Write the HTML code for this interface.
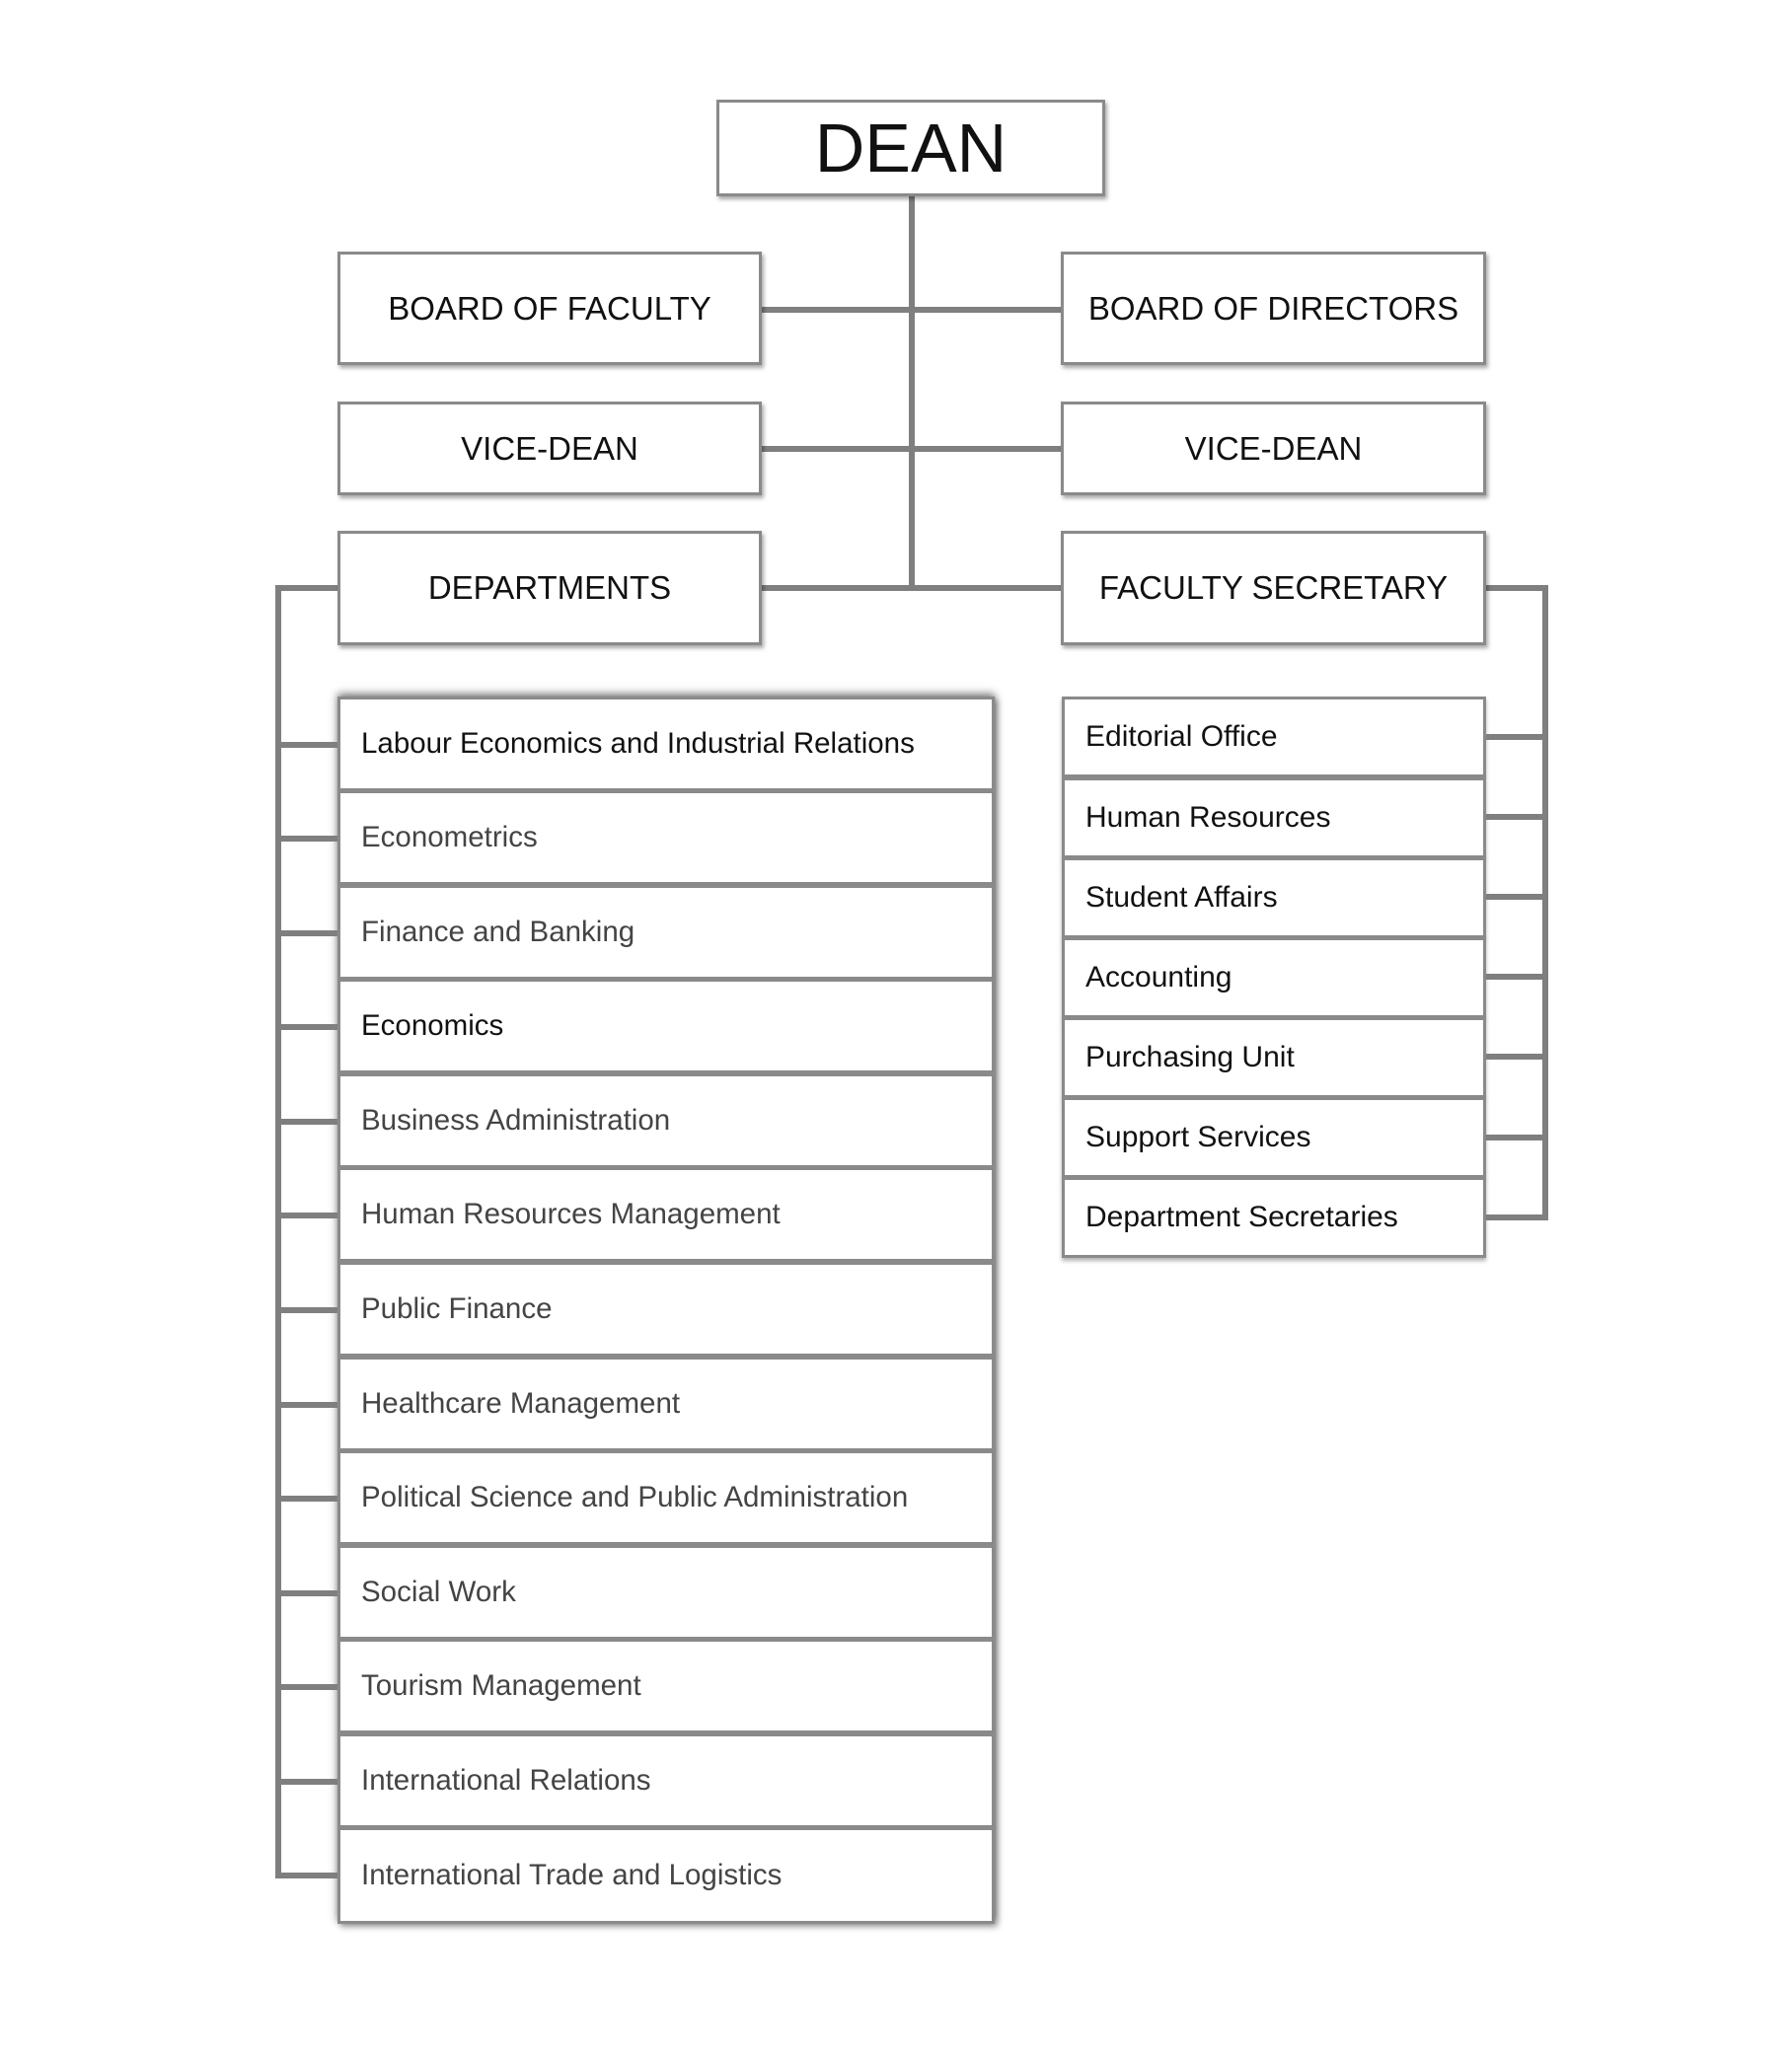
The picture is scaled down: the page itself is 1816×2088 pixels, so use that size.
<!DOCTYPE html>
<html><head><meta charset="utf-8"><style>
html,body{margin:0;padding:0;background:#fff;}
body{width:1816px;height:2088px;position:relative;overflow:hidden;font-family:"Liberation Sans",sans-serif;}
.b{position:absolute;box-sizing:border-box;background:#fff;border:3px solid #8a8a8a;box-shadow:2px 3px 4px rgba(0,0,0,0.35);display:flex;align-items:center;justify-content:center;color:#111;}
.l{position:absolute;background:#7f7f7f;}
.t{font-size:33px;}
.row{position:absolute;box-sizing:border-box;left:342px;width:666px;height:96px;background:#fff;border:3px solid #8a8a8a;display:flex;align-items:center;padding-left:21px;font-size:29.5px;color:#444;}
.rr{position:absolute;box-sizing:border-box;left:1076px;width:430px;height:82px;background:#fff;border:3px solid #8a8a8a;box-shadow:0 3px 4px rgba(0,0,0,0.3);display:flex;align-items:center;padding-left:21px;font-size:30px;color:#111;}
</style></head><body>
<div class="l" style="left:921px;top:199px;width:6px;height:400px"></div>
<div class="l" style="left:772px;top:311px;width:303px;height:6px"></div>
<div class="l" style="left:772px;top:452px;width:303px;height:6px"></div>
<div class="l" style="left:772px;top:593px;width:303px;height:6px"></div>
<div class="l" style="left:279px;top:593px;width:6px;height:1311px"></div>
<div class="l" style="left:279px;top:593px;width:63px;height:6px"></div>
<div class="l" style="left:1563px;top:593px;width:6px;height:644px"></div>
<div class="l" style="left:1506px;top:593px;width:63px;height:6px"></div>
<div class="b" style="left:726px;top:101px;width:394px;height:98px;font-size:70px;">DEAN</div>
<div class="b t" style="left:342px;top:255px;width:430px;height:115px;">BOARD OF FACULTY</div>
<div class="b t" style="left:1075px;top:255px;width:431px;height:115px;">BOARD OF DIRECTORS</div>
<div class="b t" style="left:342px;top:407px;width:430px;height:95px;">VICE-DEAN</div>
<div class="b t" style="left:1075px;top:407px;width:431px;height:95px;">VICE-DEAN</div>
<div class="b t" style="left:342px;top:538px;width:430px;height:116px;">DEPARTMENTS</div>
<div class="b t" style="left:1075px;top:538px;width:431px;height:116px;">FACULTY SECRETARY</div>
<div style="position:absolute;left:342px;top:706px;width:666px;height:1244px;box-shadow:0 -3px 8px rgba(0,0,0,0.5),3px 3px 6px rgba(0,0,0,0.35);"></div>
<div class="row" style="top:706px;color:#111">Labour Economics and Industrial Relations</div>
<div class="row" style="top:801px">Econometrics</div>
<div class="row" style="top:897px">Finance and Banking</div>
<div class="row" style="top:992px;color:#111">Economics</div>
<div class="row" style="top:1088px">Business Administration</div>
<div class="row" style="top:1183px">Human Resources Management</div>
<div class="row" style="top:1279px">Public Finance</div>
<div class="row" style="top:1375px">Healthcare Management</div>
<div class="row" style="top:1470px">Political Science and Public Administration</div>
<div class="row" style="top:1566px">Social Work</div>
<div class="row" style="top:1661px">Tourism Management</div>
<div class="row" style="top:1757px">International Relations</div>
<div class="row" style="top:1852px;height:98px">International Trade and Logistics</div>
<div class="l" style="left:279px;top:752px;width:63px;height:6px"></div>
<div class="l" style="left:279px;top:847px;width:63px;height:6px"></div>
<div class="l" style="left:279px;top:943px;width:63px;height:6px"></div>
<div class="l" style="left:279px;top:1038px;width:63px;height:6px"></div>
<div class="l" style="left:279px;top:1134px;width:63px;height:6px"></div>
<div class="l" style="left:279px;top:1229px;width:63px;height:6px"></div>
<div class="l" style="left:279px;top:1325px;width:63px;height:6px"></div>
<div class="l" style="left:279px;top:1421px;width:63px;height:6px"></div>
<div class="l" style="left:279px;top:1516px;width:63px;height:6px"></div>
<div class="l" style="left:279px;top:1612px;width:63px;height:6px"></div>
<div class="l" style="left:279px;top:1707px;width:63px;height:6px"></div>
<div class="l" style="left:279px;top:1803px;width:63px;height:6px"></div>
<div class="l" style="left:279px;top:1898px;width:63px;height:6px"></div>
<div class="rr" style="top:706px">Editorial Office</div>
<div class="rr" style="top:788px">Human Resources</div>
<div class="rr" style="top:869px">Student Affairs</div>
<div class="rr" style="top:950px">Accounting</div>
<div class="rr" style="top:1031px">Purchasing Unit</div>
<div class="rr" style="top:1112px">Support Services</div>
<div class="rr" style="top:1193px">Department Secretaries</div>
<div class="l" style="left:1506px;top:744px;width:63px;height:6px"></div>
<div class="l" style="left:1506px;top:825px;width:63px;height:6px"></div>
<div class="l" style="left:1506px;top:906px;width:63px;height:6px"></div>
<div class="l" style="left:1506px;top:987px;width:63px;height:6px"></div>
<div class="l" style="left:1506px;top:1068px;width:63px;height:6px"></div>
<div class="l" style="left:1506px;top:1150px;width:63px;height:6px"></div>
<div class="l" style="left:1506px;top:1231px;width:63px;height:6px"></div>
</body></html>
